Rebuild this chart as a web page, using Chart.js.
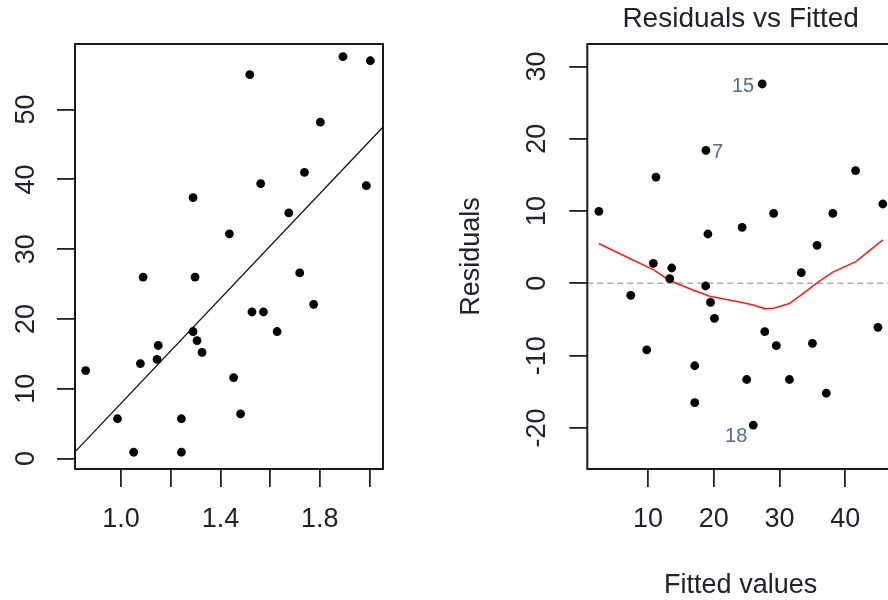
<!DOCTYPE html>
<html><head><meta charset="utf-8">
<script src="https://cdn.jsdelivr.net/npm/chart.js@4.4.0/dist/chart.umd.min.js"></script>
<style>
html,body{margin:0;padding:0;background:#fff;width:888px;height:600px;overflow:hidden;position:relative}
#w1{position:absolute;left:0;top:0;width:440px;height:600px}
#w2{position:absolute;left:440px;top:0;width:460px;height:600px}
</style></head><body>
<div id="w1"><canvas id="c1"></canvas></div>
<div id="w2"><canvas id="c2"></canvas></div>
<script>
// ---- left panel data ----
const xValues = [1.518,1.893,2.003,1.802,1.738,1.562,1.290,1.987,1.675,1.436,1.089,1.298,1.719,1.775,1.527,1.573,1.628,1.290,1.306,1.326,1.150,1.145,1.078,0.858,1.453,0.986,1.243,1.481,1.051,1.243];
const yValues = [55.0,57.6,57.0,48.2,41.0,39.4,37.4,39.1,35.2,32.2,26.0,26.0,26.6,22.1,21.0,21.0,18.2,18.2,16.9,15.2,16.2,14.2,13.6,12.6,11.6,5.7,5.7,6.4,0.9,0.9];
const fitLineX = [0.815, 2.054];
const fitLineY = [0.95, 47.5];
const leftXTicks = [1.0,1.2,1.4,1.6,1.8,2.0];
const leftXTickLabels = ['1.0','','1.4','','1.8',''];
const leftYTicks = [0,10,20,30,40,50];
const leftYTickLabels = ['0','10','20','30','40','50'];

// ---- right panel data ----
const fittedValues = [27.36,41.56,45.7,38.1,35.7,29.1,18.8,44.96,33.3,24.3,11.2,19.1,35.0,37.1,27.75,29.5,31.5,18.76,19.5,20.1,13.6,13.3,10.8,2.52,25.0,7.37,17.1,26.0,9.8,17.1];
const residuals = [27.57,15.6,10.97,9.68,5.26,9.68,18.4,-6.09,1.47,7.74,14.7,6.82,-8.3,-15.2,-6.69,-8.63,-13.3,-0.37,-2.63,-4.84,2.12,0.64,2.77,9.96,-13.3,-1.66,-11.4,-19.6,-9.2,-16.5];
const pointIds = ['15','','','','','','7','','','','','','','','','','','','','','','','','','','','','18','',''];
const smoothX = [2.5,7.3,10.8,13.3,17.0,19.4,24.3,26.0,27.7,29.1,31.5,33.3,35.7,38.1,41.6,45.7];
const smoothY = [5.5,3.4,1.9,0.4,-1.0,-1.8,-2.65,-3.0,-3.5,-3.45,-2.8,-1.6,0.05,1.55,3.0,6.0];
const zeroLineX = [0.76, 47.4];
const zeroLineY = [0, 0];
const rightXTicks = [10,20,30,40];
const rightXTickLabels = ['10','20','30','40'];
const rightYTicks = [-20,-10,0,10,20,30];
const rightYTickLabels = ['-20','-10','0','10','20','30'];

// ---- styling ----
const FONT = '"Liberation Sans", Arial, sans-serif';
const TXT = '#22222c';
const idPlacement = {'15':[-8,3], '7':[6,2], '18':[-6,11]};

const boxPlugin = {id:'box', afterDatasetsDraw(chart){
  const {ctx, chartArea:a} = chart;
  ctx.save(); ctx.strokeStyle = '#1a1a1a'; ctx.lineWidth = 2;
  ctx.strokeRect(a.left, a.top, a.right - a.left, a.bottom - a.top);
  ctx.restore();
}};

const idPlugin = {id:'ids', afterDatasetsDraw(chart){
  const meta = chart.getDatasetMeta(0);
  const ctx = chart.ctx;
  ctx.save();
  ctx.font = '20px ' + FONT;
  ctx.fillStyle = '#4f6d8e';
  ctx.textBaseline = 'middle';
  pointIds.forEach((lab, i) => {
    if (!lab) return;
    const el = meta.data[i];
    const p = idPlacement[lab];
    ctx.textAlign = p[0] < 0 ? 'right' : 'left';
    ctx.fillText(lab, el.x + p[0], el.y + p[1]);
  });
  ctx.restore();
}};

function pts(xs, ys){ return xs.map((x,i)=>({x:x, y:ys[i]})); }

const tickFont = {family: FONT, size: 27};
const gridTicks = {drawOnChartArea:false, drawTicks:true, tickLength:18, color:'#222', lineWidth:1.8};

new Chart(document.getElementById('c1'), {
  type: 'scatter',
  data: {datasets: [
    {data: pts(xValues, yValues), pointRadius:4.4, pointHoverRadius:4.4, backgroundColor:'#000', borderWidth:0},
    {data: pts(fitLineX, fitLineY), showLine:true, pointRadius:0, borderColor:'#111', borderWidth:1.3, fill:false}
  ]},
  options: {
    responsive:true, maintainAspectRatio:false, animation:false, devicePixelRatio:1,
    layout:{padding:{top:44,left:0,right:57,bottom:0}, autoPadding:false},
    plugins:{legend:{display:false}, tooltip:{enabled:false}},
    scales:{
      x:{type:'linear', position:'bottom', min:0.815, max:2.054,
        afterBuildTicks: s => { s.ticks = leftXTicks.map(v => ({value:v})); },
        afterFit: s => { s.height = 131; },
        ticks:{autoSkip:false, minRotation:0, maxRotation:0, padding:16.8, color:TXT, font:tickFont,
          callback:(v,i) => leftXTickLabels[i]},
        grid: gridTicks, border:{display:false}},
      y:{type:'linear', position:'left', min:-1.5, max:59.4,
        afterBuildTicks: s => { s.ticks = leftYTicks.map(v => ({value:v})); },
        afterFit: s => { s.width = 75; },
        ticks:{autoSkip:false, minRotation:90, maxRotation:90, crossAlign:'center', padding:15, color:TXT, font:tickFont,
          callback:(v,i) => leftYTickLabels[i]},
        grid: gridTicks, border:{display:false}}
    }
  },
  plugins:[boxPlugin]
});

new Chart(document.getElementById('c2'), {
  type: 'scatter',
  data: {datasets: [
    {data: pts(fittedValues, residuals), pointRadius:4.4, pointHoverRadius:4.4, backgroundColor:'#000', borderWidth:0},
    {data: pts(smoothX, smoothY), showLine:true, pointRadius:0, borderColor:'#ff1a1a', borderWidth:1.6, fill:false},
    {data: pts(zeroLineX, zeroLineY), showLine:true, pointRadius:0, borderColor:'#b0b0b0', borderWidth:1.6, borderDash:[6,4], fill:false}
  ]},
  options: {
    responsive:true, maintainAspectRatio:false, animation:false, devicePixelRatio:1,
    layout:{padding:{top:0,left:0,right:6,bottom:0}, autoPadding:false},
    plugins:{legend:{display:false}, tooltip:{enabled:false},
      title:{display:true, text:'Residuals vs Fitted', fullSize:false, color:TXT,
        font:{family:FONT, size:28, weight:'normal', lineHeight:1}, padding:{top:5, bottom:11}}},
    scales:{
      x:{type:'linear', position:'bottom', min:0.76, max:47.4,
        afterBuildTicks: s => { s.ticks = rightXTicks.map(v => ({value:v})); },
        afterFit: s => { s.height = 131; },
        ticks:{autoSkip:false, minRotation:0, maxRotation:0, padding:16.5, color:TXT, font:tickFont,
          callback:(v,i) => rightXTickLabels[i]},
        title:{display:true, text:'Fitted values', color:TXT, font:{family:FONT, size:27, lineHeight:1}, padding:{top:0,bottom:1}},
        grid: gridTicks, border:{display:false}},
      y:{type:'linear', position:'left', min:-25.68, max:33.1,
        afterBuildTicks: s => { s.ticks = rightYTicks.map(v => ({value:v})); },
        afterFit: s => { s.width = 147.3; },
        ticks:{autoSkip:false, minRotation:90, maxRotation:90, crossAlign:'center', padding:12, color:TXT, font:tickFont,
          callback:(v,i) => rightYTickLabels[i]},
        title:{display:true, text:'Residuals', color:TXT, font:{family:FONT, size:27, lineHeight:1}, padding:{top:18.5,bottom:0}},
        grid: gridTicks, border:{display:false}}
    }
  },
  plugins:[boxPlugin, idPlugin]
});
</script>
</body></html>
